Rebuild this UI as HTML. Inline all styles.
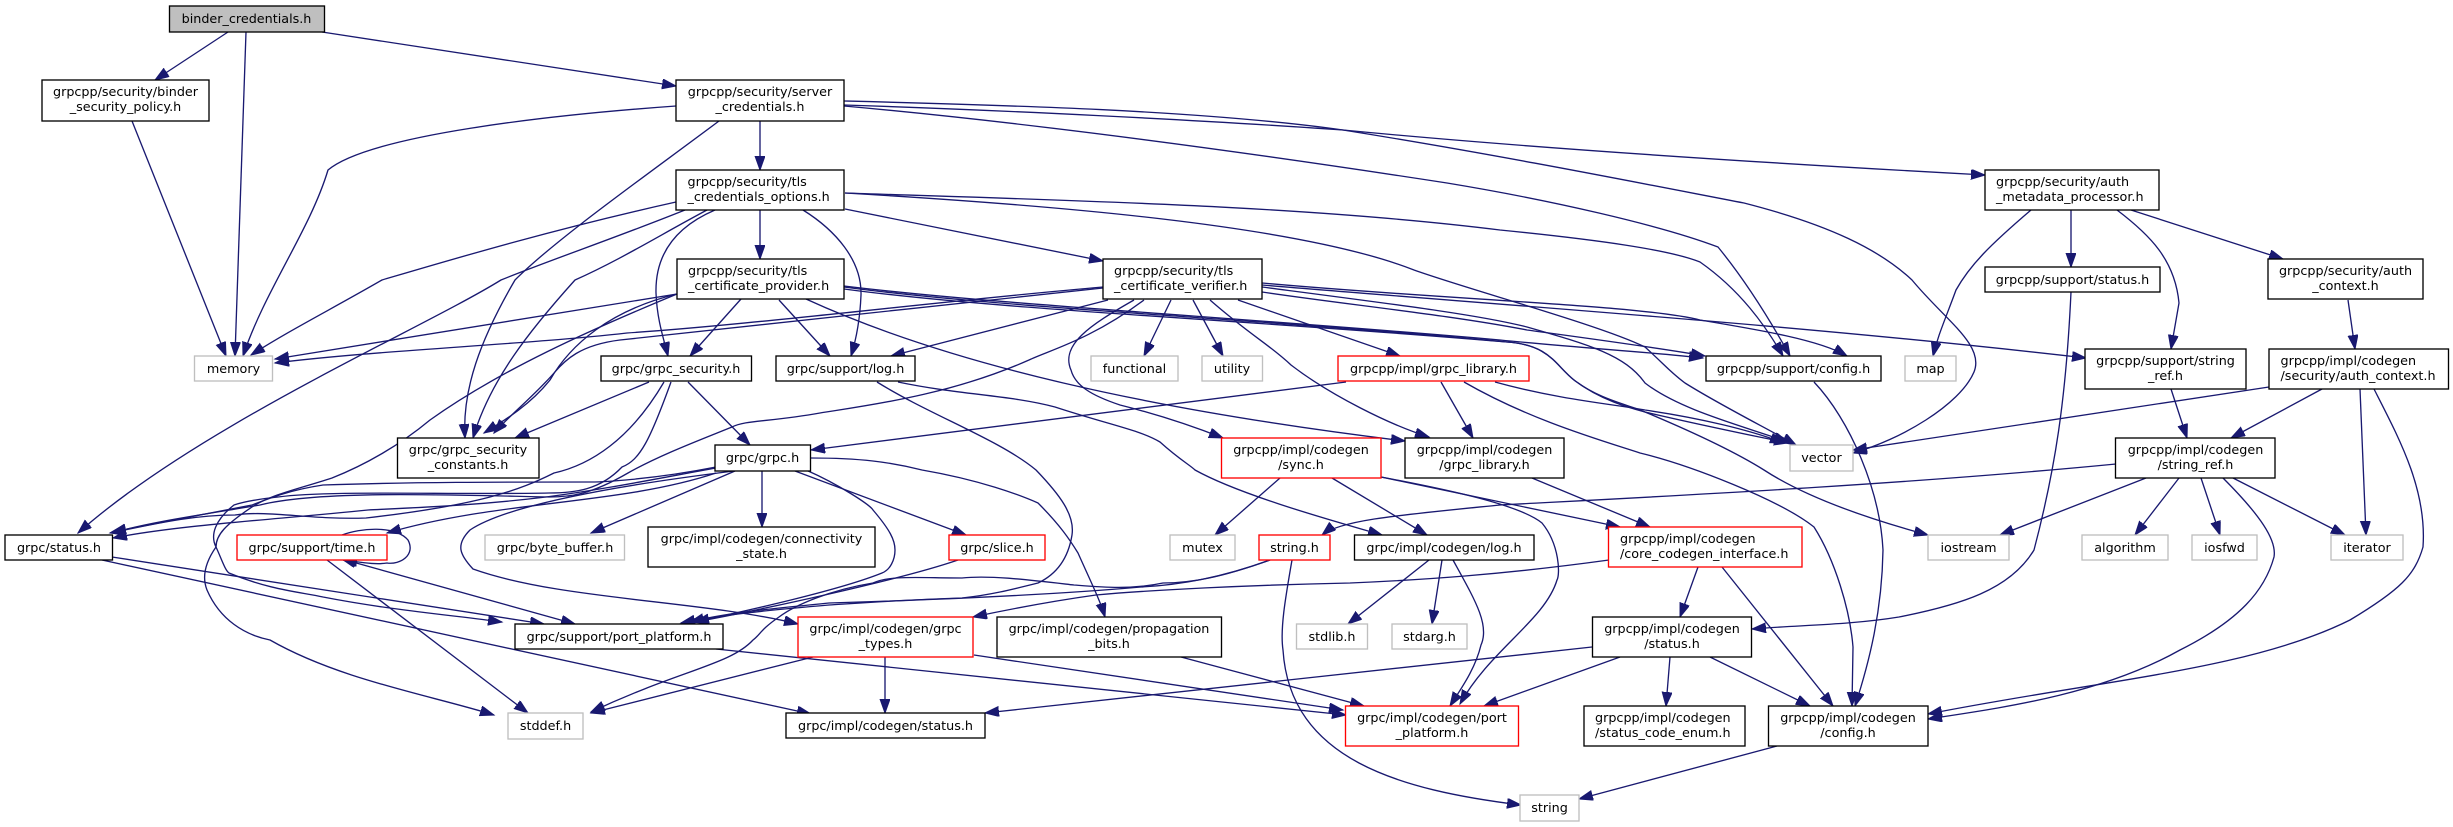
<!DOCTYPE html>
<html><head><meta charset="utf-8"><title>binder_credentials.h</title>
<style>
html,body{margin:0;padding:0;background:#fff}
svg{display:block}
text{font-family:"DejaVu Sans","Liberation Sans",sans-serif;font-size:12.75px;fill:#000}
.m{text-anchor:middle}
.e path{fill:none;stroke:#191970;stroke-width:1.33;marker-end:url(#a)}
.n rect{fill:#fff;stroke:#000;stroke-width:1.33}
.n rect.r{stroke:#f00}
.n rect.g{stroke:#bfbfbf}
</style></head><body>
<svg width="2453" height="827" viewBox="0 0 2453 827" xmlns="http://www.w3.org/2000/svg">
<defs><marker id="a" markerUnits="userSpaceOnUse" markerWidth="16" markerHeight="12" refX="14" refY="5" orient="auto"><path d="M0,0L14,5L0,10z" fill="#191970" stroke="#191970"/></marker>
<marker id="b" markerUnits="userSpaceOnUse" markerWidth="16" markerHeight="12" refX="14" refY="5" orient="auto-start-reverse"><path d="M0,0L14,5L0,10z" fill="#191970" stroke="#191970"/></marker></defs>
<rect width="2453" height="827" fill="#fff"/>
<g class="e">
<path d="M228,32L155,80"/>
<path d="M246,32L235,356"/>
<path d="M322,32L676,86"/>
<path d="M132,121L226,356"/>
<path d="M676,106C550,115 370,135 328,170C310,230 265,290 243,356"/>
<path d="M719,121C640,180 555,240 515,280C480,340 462,390 465,438"/>
<path d="M760,121L760,170"/>
<path d="M676,202C550,230 450,260 382,280C330,310 290,330 251,355"/>
<path d="M685,210C610,240 550,260 501,280C420,330 200,425 78,533"/>
<path d="M707,210C660,235 620,260 575,280C530,330 490,380 473,438"/>
<path d="M715,210C680,225 655,250 656,293C657,320 664,340 668,356"/>
<path d="M760,210L760,259"/>
<path d="M803,210C835,230 862,260 861,295C860,320 856,340 851,356"/>
<path d="M845,209L1103,261"/>
<path d="M845,193C1050,200 1300,205 1500,230C1600,240 1670,250 1700,262C1740,290 1765,325 1783,356"/>
<path d="M844,105C1000,110 1200,120 1343,130C1550,150 1800,165 1985,175"/>
<path d="M844,106C1000,120 1200,145 1447,183C1550,200 1660,225 1718,247C1745,280 1770,320 1790,356"/>
<path d="M844,101C1000,105 1200,110 1343,130C1500,155 1650,185 1744,203C1830,225 1880,250 1912,280C1945,320 1985,345 1974,372C1960,405 1900,440 1853,453"/>
<path d="M845,193C1050,205 1300,225 1414,270C1470,290 1600,325 1645,347C1665,365 1670,372 1685,383C1720,405 1770,430 1796,445"/>
<path d="M741,299L690,356"/>
<path d="M677,294L275,359"/>
<path d="M677,294C610,310 570,345 550,380C530,405 505,420 484,433"/>
<path d="M677,294C590,330 500,370 430,420C400,445 365,465 332,478C295,490 270,495 252,507C225,525 216,535 216,547C200,570 205,585 207,590C220,620 245,635 270,640C340,680 430,695 494,715"/>
<path d="M779,300L830,356"/>
<path d="M844,286C1000,305 1250,318 1500,340C1580,348 1650,352 1703,358"/>
<path d="M844,287C1000,308 1250,318 1507,342C1550,345 1555,365 1574,380C1600,400 1630,408 1645,412C1700,425 1750,435 1788,443"/>
<path d="M806,299C950,365 1150,410 1405,441"/>
<path d="M844,289C1000,310 1250,320 1507,342C1550,345 1555,365 1574,380C1600,400 1630,405 1645,412C1700,435 1740,455 1764,470C1810,500 1880,522 1928,535"/>
<path d="M1103,287C950,300 750,325 627,333C520,345 380,350 275,363"/>
<path d="M1103,288C950,305 750,325 620,340C580,345 565,360 554,373C535,395 510,415 494,433"/>
<path d="M1108,300L891,356"/>
<path d="M1144,300C1090,340 1050,350 1029,360C950,395 870,405 820,413C770,422 745,420 732,427C700,440 660,455 628,473C590,495 570,497 549,497C450,495 320,490 260,505C200,515 150,522 112,533"/>
<path d="M1171,300L1144,356"/>
<path d="M1193,300L1223,356"/>
<path d="M1134,300C1090,325 1060,345 1071,370C1075,385 1090,395 1120,405C1160,415 1190,425 1223,438"/>
<path d="M1210,300C1250,335 1270,345 1291,365C1330,395 1390,425 1429,437"/>
<path d="M1238,300L1400,356"/>
<path d="M1262,285C1500,305 1800,325 2086,358"/>
<path d="M1262,283C1450,300 1640,305 1700,320C1760,330 1820,340 1847,356"/>
<path d="M1262,292C1350,305 1450,315 1527,330C1600,340 1660,348 1705,356"/>
<path d="M1262,287C1400,305 1480,315 1527,327C1590,345 1625,355 1645,383C1680,410 1740,425 1788,442"/>
<path d="M649,382L515,438"/>
<path d="M688,382L750,445"/>
<path d="M664,382C630,440 590,465 554,473C520,490 480,505 366,518C310,520 270,510 235,515C190,515 150,525 110,533"/>
<path d="M671,382C650,440 640,460 622,467C600,490 575,493 549,493C450,495 330,490 278,497C250,500 240,503 234,505C215,520 210,535 216,547C222,560 225,570 229,573C270,590 300,592 323,597C390,610 450,615 502,622"/>
<path d="M716,467C650,480 600,482 591,482C500,482 412,482 323,485C290,490 270,498 252,505C200,515 150,525 112,532"/>
<path d="M716,468C650,480 600,490 546,497C480,505 430,507 368,510C270,520 180,525 113,538"/>
<path d="M716,473C620,505 500,500 387,533"/>
<path d="M734,471C580,490 500,510 470,530C455,545 460,555 473,569C560,600 700,600 798,624"/>
<path d="M735,471L591,533"/>
<path d="M762,471L762,527"/>
<path d="M795,471L966,535"/>
<path d="M806,470C840,485 870,505 873,510C890,530 895,540 895,550C895,560 890,570 882,573C840,590 750,610 695,622"/>
<path d="M811,458C860,458 890,462 922,470C980,480 1020,495 1038,503C1060,525 1070,540 1078,553C1090,580 1100,600 1105,617"/>
<path d="M1346,382L811,450"/>
<path d="M877,382C930,415 1000,440 1036,470C1060,495 1075,515 1072,535C1068,560 1055,575 1038,583C1010,590 990,595 962,598C900,600 860,603 829,605C770,610 720,615 681,623"/>
<path d="M898,382C960,395 1010,395 1055,407C1110,425 1140,430 1160,442C1180,460 1190,465 1195,470C1240,495 1330,520 1382,535"/>
<path d="M958,560C900,580 760,610 695,622"/>
<path d="M1270,560C1220,578 1180,585 1141,587C1050,595 930,600 829,603C780,608 730,612 690,622"/>
<path d="M1270,560C1220,578 1190,583 1163,583C1130,590 1100,587 1074,585C1030,580 990,575 962,578C920,578 890,575 873,583C830,590 795,605 779,617C760,630 760,635 753,640C730,665 680,670 591,712"/>
<path d="M342,559L575,624" style="marker-start:url(#b)"/>
<path d="M342,535C360,528 395,525 408,540C416,555 400,565 387,563C375,565 360,562 343,560"/>
<path d="M327,560L528,713"/>
<path d="M112,557L544,624"/>
<path d="M102,560L811,714"/>
<path d="M813,657L591,713"/>
<path d="M885,657L885,713"/>
<path d="M974,655L1343,710"/>
<path d="M716,649L1346,715"/>
<path d="M1181,657L1364,706"/>
<path d="M1592,647L985,713"/>
<path d="M1620,657L1484,706"/>
<path d="M1670,657L1666,706"/>
<path d="M1710,657L1810,706"/>
<path d="M1698,567L1680,617"/>
<path d="M1722,567L1833,706"/>
<path d="M1609,560C1500,575 1420,580 1350,583C1250,585 1150,590 1096,595C1060,600 1020,607 973,617"/>
<path d="M1381,477L1620,527"/>
<path d="M1280,478L1215,535"/>
<path d="M1332,478L1427,535"/>
<path d="M1381,477C1450,490 1520,505 1542,523C1560,545 1560,575 1557,580C1545,620 1490,650 1460,704"/>
<path d="M1429,560L1348,624"/>
<path d="M1442,560L1432,624"/>
<path d="M1453,560C1475,600 1490,625 1481,645C1475,670 1460,690 1450,706"/>
<path d="M1292,560C1285,600 1280,630 1283,650C1290,760 1400,790 1521,805"/>
<path d="M1777,746L1579,799"/>
<path d="M1532,478L1650,527"/>
<path d="M1495,382C1560,400 1620,405 1645,410C1700,418 1750,430 1784,443"/>
<path d="M1441,382L1473,438"/>
<path d="M1464,382C1530,420 1600,440 1640,453C1690,465 1780,500 1814,527C1835,560 1850,610 1853,647L1852,706"/>
<path d="M1814,382C1850,420 1880,490 1883,550C1882,610 1870,660 1855,706"/>
<path d="M2071,292C2066,400 2055,470 2034,550C2010,590 1960,605 1899,617C1850,625 1800,625 1752,629"/>
<path d="M2171,389L2187,438"/>
<path d="M2071,210L2071,267"/>
<path d="M2031,210C1990,245 1970,265 1956,290C1945,320 1938,335 1933,356"/>
<path d="M2117,210C2150,235 2175,260 2179,303L2171,349"/>
<path d="M2131,210L2283,259"/>
<path d="M2348,300L2355,349"/>
<path d="M2269,387L1853,450"/>
<path d="M2322,389L2231,438"/>
<path d="M2360,389L2366,535"/>
<path d="M2374,389C2400,440 2427,490 2423,547C2415,575 2400,590 2350,620C2250,670 2100,680 1928,714"/>
<path d="M2116,464C1900,485 1650,497 1500,505C1400,515 1340,520 1322,535"/>
<path d="M2146,478L2000,535"/>
<path d="M2179,478L2135,535"/>
<path d="M2201,478L2220,535"/>
<path d="M2233,478L2345,535"/>
<path d="M2223,478C2260,515 2277,540 2274,557C2265,590 2240,620 2180,650C2100,695 2000,708 1928,719"/>
</g>
<g class="n">
<rect x="169.5" y="6" width="155" height="26" style="fill:#bfbfbf"/><text x="246.5" y="23" class="m">binder_credentials.h</text>
<rect x="42" y="80" width="167" height="41"/><text x="125.5" y="96" class="m">grpcpp/security/binder</text><text x="125.5" y="111" class="m">_security_policy.h</text>
<rect x="676" y="80" width="168" height="41"/><text x="760" y="96" class="m">grpcpp/security/server</text><text x="760" y="111" class="m">_credentials.h</text>
<rect x="676" y="170" width="168" height="40"/><text x="687.5" y="186">grpcpp/security/tls</text><text x="687.5" y="201">_credentials_options.h</text>
<rect x="677" y="259" width="167" height="40"/><text x="688" y="275">grpcpp/security/tls</text><text x="688" y="290">_certificate_provider.h</text>
<rect x="1103" y="259" width="159" height="40"/><text x="1114" y="275">grpcpp/security/tls</text><text x="1114" y="290">_certificate_verifier.h</text>
<rect x="1985" y="170" width="174" height="40"/><text x="1996" y="186">grpcpp/security/auth</text><text x="1996" y="201">_metadata_processor.h</text>
<rect x="1985" y="267" width="175" height="25"/><text x="2072.5" y="284" class="m">grpcpp/support/status.h</text>
<rect x="2268" y="259" width="155" height="40"/><text x="2345.5" y="275" class="m">grpcpp/security/auth</text><text x="2345.5" y="290" class="m">_context.h</text>
<rect x="194.5" y="356" width="78" height="25" class="g"/><text x="233.5" y="373" class="m">memory</text>
<rect x="601" y="356" width="150.500" height="25"/><text x="676" y="373" class="m">grpc/grpc_security.h</text>
<rect x="776" y="356" width="139" height="25"/><text x="845.5" y="373" class="m">grpc/support/log.h</text>
<rect x="397.5" y="438" width="141.500" height="40"/><text x="468" y="454" class="m">grpc/grpc_security</text><text x="468" y="469" class="m">_constants.h</text>
<rect x="715" y="445" width="95.500" height="26"/><text x="762.500" y="462" class="m">grpc/grpc.h</text>
<rect x="5" y="535" width="107.500" height="25"/><text x="59" y="552" class="m">grpc/status.h</text>
<rect x="237" y="535" width="150" height="25" class="r"/><text x="312" y="552" class="m">grpc/support/time.h</text>
<rect x="485" y="535" width="139.500" height="25" class="g"/><text x="555" y="552" class="m">grpc/byte_buffer.h</text>
<rect x="648" y="527" width="227" height="40"/><text x="761.500" y="543" class="m">grpc/impl/codegen/connectivity</text><text x="761.500" y="558" class="m">_state.h</text>
<rect x="1091" y="356" width="87" height="25" class="g"/><text x="1134.500" y="373" class="m">functional</text>
<rect x="1202" y="356" width="60.500" height="25" class="g"/><text x="1232" y="373" class="m">utility</text>
<rect x="1338" y="356" width="191" height="25" class="r"/><text x="1433.500" y="373" class="m">grpcpp/impl/grpc_library.h</text>
<rect x="1221.500" y="438" width="159.500" height="40" class="r"/><text x="1301" y="454" class="m">grpcpp/impl/codegen</text><text x="1301" y="469" class="m">/sync.h</text>
<rect x="1405" y="438" width="159" height="40"/><text x="1484.500" y="454" class="m">grpcpp/impl/codegen</text><text x="1484.500" y="469" class="m">/grpc_library.h</text>
<rect x="1170" y="535" width="65" height="25" class="g"/><text x="1202.500" y="552" class="m">mutex</text>
<rect x="1259" y="535" width="71" height="25" class="r"/><text x="1294.500" y="552" class="m">string.h</text>
<rect x="1354.500" y="535" width="179.500" height="25"/><text x="1444" y="552" class="m">grpc/impl/codegen/log.h</text>
<rect x="949" y="535" width="96" height="25" class="r"/><text x="997" y="552" class="m">grpc/slice.h</text>
<rect x="1608.500" y="527" width="193.500" height="40" class="r"/><text x="1620" y="543">grpcpp/impl/codegen</text><text x="1620" y="558">/core_codegen_interface.h</text>
<rect x="1706" y="356" width="175" height="25"/><text x="1793.500" y="373" class="m">grpcpp/support/config.h</text>
<rect x="1905" y="356" width="51" height="25" class="g"/><text x="1930.500" y="373" class="m">map</text>
<rect x="1790" y="445" width="63" height="26" class="g"/><text x="1821.500" y="462" class="m">vector</text>
<rect x="2085" y="349" width="161" height="40"/><text x="2165.500" y="365" class="m">grpcpp/support/string</text><text x="2165.500" y="380" class="m">_ref.h</text>
<rect x="2269" y="349" width="179.500" height="40"/><text x="2280.500" y="365">grpcpp/impl/codegen</text><text x="2280.500" y="380">/security/auth_context.h</text>
<rect x="2115.500" y="438" width="159.500" height="40"/><text x="2195.500" y="454" class="m">grpcpp/impl/codegen</text><text x="2195.500" y="469" class="m">/string_ref.h</text>
<rect x="1928" y="535" width="81" height="25" class="g"/><text x="1968.500" y="552" class="m">iostream</text>
<rect x="2082" y="535" width="86" height="25" class="g"/><text x="2125" y="552" class="m">algorithm</text>
<rect x="2192" y="535" width="65" height="25" class="g"/><text x="2224.500" y="552" class="m">iosfwd</text>
<rect x="2331" y="535" width="72" height="25" class="g"/><text x="2367" y="552" class="m">iterator</text>
<rect x="1592.500" y="617" width="159" height="40"/><text x="1672" y="633" class="m">grpcpp/impl/codegen</text><text x="1672" y="648" class="m">/status.h</text>
<rect x="1584" y="706" width="161" height="40"/><text x="1595" y="722">grpcpp/impl/codegen</text><text x="1595" y="737">/status_code_enum.h</text>
<rect x="1768.500" y="706" width="159.500" height="40"/><text x="1848" y="722" class="m">grpcpp/impl/codegen</text><text x="1848" y="737" class="m">/config.h</text>
<rect x="515" y="624" width="208" height="25"/><text x="619" y="641" class="m">grpc/support/port_platform.h</text>
<rect x="508" y="713" width="75" height="26" class="g"/><text x="545.500" y="730" class="m">stddef.h</text>
<rect x="798" y="617" width="175" height="40" class="r"/><text x="885.500" y="633" class="m">grpc/impl/codegen/grpc</text><text x="885.500" y="648" class="m">_types.h</text>
<rect x="997" y="617" width="224.500" height="40"/><text x="1109" y="633" class="m">grpc/impl/codegen/propagation</text><text x="1109" y="648" class="m">_bits.h</text>
<rect x="1296.500" y="624" width="71" height="25" class="g"/><text x="1332" y="641" class="m">stdlib.h</text>
<rect x="1392" y="624" width="75" height="25" class="g"/><text x="1429.500" y="641" class="m">stdarg.h</text>
<rect x="1345.500" y="706" width="173" height="40" class="r"/><text x="1432" y="722" class="m">grpc/impl/codegen/port</text><text x="1432" y="737" class="m">_platform.h</text>
<rect x="786" y="713" width="199" height="25"/><text x="885.500" y="730" class="m">grpc/impl/codegen/status.h</text>
<rect x="1520" y="795" width="59" height="26" class="g"/><text x="1549.500" y="812" class="m">string</text>
</g>
</svg>
</body></html>
